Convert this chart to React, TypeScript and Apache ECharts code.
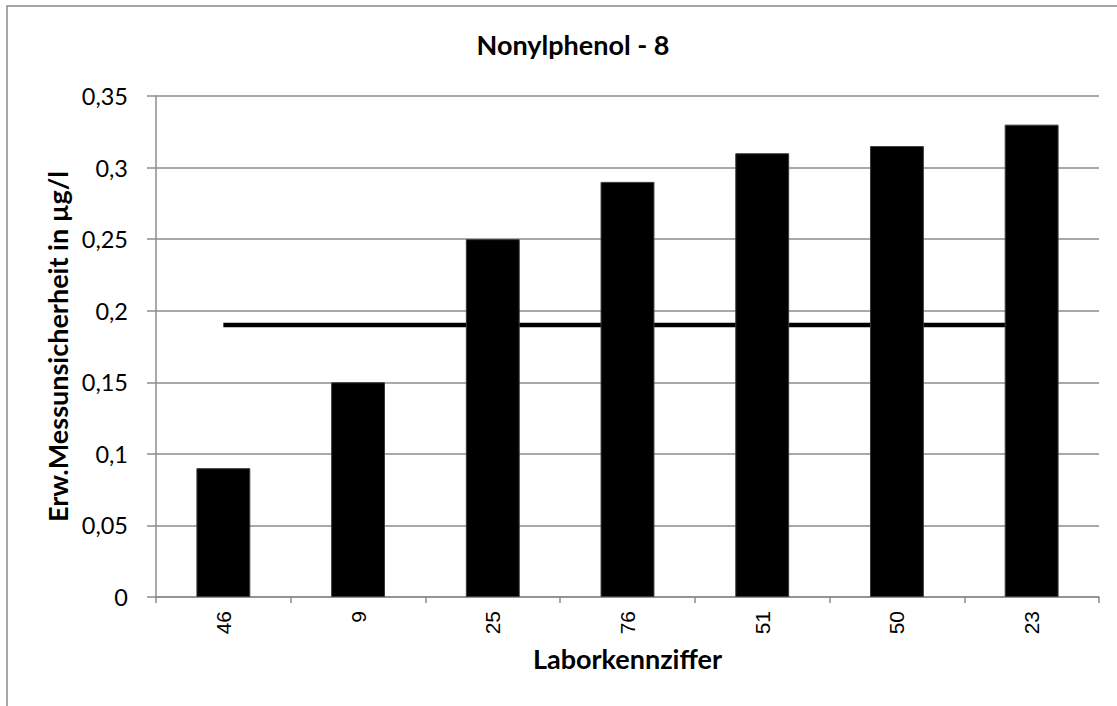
import React, { useEffect, useRef } from "react";
import * as echarts from "echarts";

const categories = ["46", "9", "25", "76", "51", "50", "23"];
const uncertaintyValues = [0.09, 0.15, 0.25, 0.29, 0.31, 0.315, 0.33];
const referenceValue = 0.19;
const referenceLine = categories.map(() => referenceValue);
const yTicks = [0, 0.05, 0.1, 0.15, 0.2, 0.25, 0.3, 0.35];

const titleText = "Nonylphenol - 8";
const yName = "Erw.Messunsicherheit in µg/l";
const xName = "Laborkennziffer";

const labelFont = "Lato, 'Open Sans', sans-serif";

export default function App() {
  const ref = useRef<HTMLDivElement>(null);
  useEffect(() => {
    if (!ref.current) return;
    const chart = echarts.init(ref.current, null, { renderer: "svg" });
    chart.setOption({
      animation: false,
      backgroundColor: "#ffffff",
      title: {
        text: titleText,
        left: 568,
        top: 26,
        textAlign: "center",
        textStyle: { fontFamily: labelFont, fontWeight: "bold", fontSize: 27, color: "#000" },
      },
      graphic: [
        {
          type: "polyline",
          shape: { points: [[7, 800], [7, 6], [1300, 6]] },
          style: { fill: "none", stroke: "#8a8a8a", lineWidth: 1.5 },
          silent: true,
          z: -1,
        },
      ],
      grid: { left: 156, right: 18, top: 96, bottom: 109, containLabel: false },
      xAxis: {
        type: "category",
        data: categories,
        name: xName,
        nameLocation: "middle",
        nameGap: 48,
        nameTextStyle: { fontFamily: labelFont, fontWeight: "bold", fontSize: 27, color: "#000" },
        axisLine: { show: true, lineStyle: { color: "#8c8c8c", width: 1.5 } },
        axisTick: { show: true, alignWithLabel: false, length: 6, lineStyle: { color: "#8c8c8c", width: 1.5 } },
        axisLabel: {
          rotate: 90,
          margin: 14,
          fontFamily: "'Liberation Sans', Arial, sans-serif",
          fontSize: 21,
          color: "#000",
        },
        splitLine: { show: false },
      },
      yAxis: {
        type: "value",
        min: 0,
        max: 0.35,
        interval: 0.05,
        name: yName,
        nameLocation: "middle",
        nameGap: 83,
        nameRotate: 90,
        nameTextStyle: { fontFamily: labelFont, fontWeight: "bold", fontSize: 27, color: "#000" },
        axisLine: { show: true, lineStyle: { color: "#8c8c8c", width: 1.5 } },
        axisTick: { show: true, length: 9, lineStyle: { color: "#8c8c8c", width: 1.5 } },
        axisLabel: {
          margin: 28,
          fontFamily: labelFont,
          fontSize: 23.5,
          color: "#000",
          formatter: (v: number) => {
            const t = yTicks.find((x) => Math.abs(x - v) < 1e-9);
            return String(t ?? v).replace(".", ",");
          },
        },
        splitLine: { show: true, lineStyle: { color: "#8c8c8c", width: 1.5 } },
      },
      series: [
        {
          type: "line",
          data: referenceLine,
          symbol: "none",
          z: 1,
          lineStyle: { color: "#000", width: 4.5 },
        },
        {
          type: "bar",
          data: uncertaintyValues,
          barCategoryGap: "60%",
          z: 3,
          itemStyle: { color: "#000", borderColor: "#3a3a3a", borderWidth: 1 },
        },
      ],
    });
    return () => chart.dispose();
  }, []);
  return (
    <div
      ref={ref}
      style={{ position: "fixed", left: 0, top: 0, width: 1117, height: 706, background: "#fff" }}
    />
  );
}
